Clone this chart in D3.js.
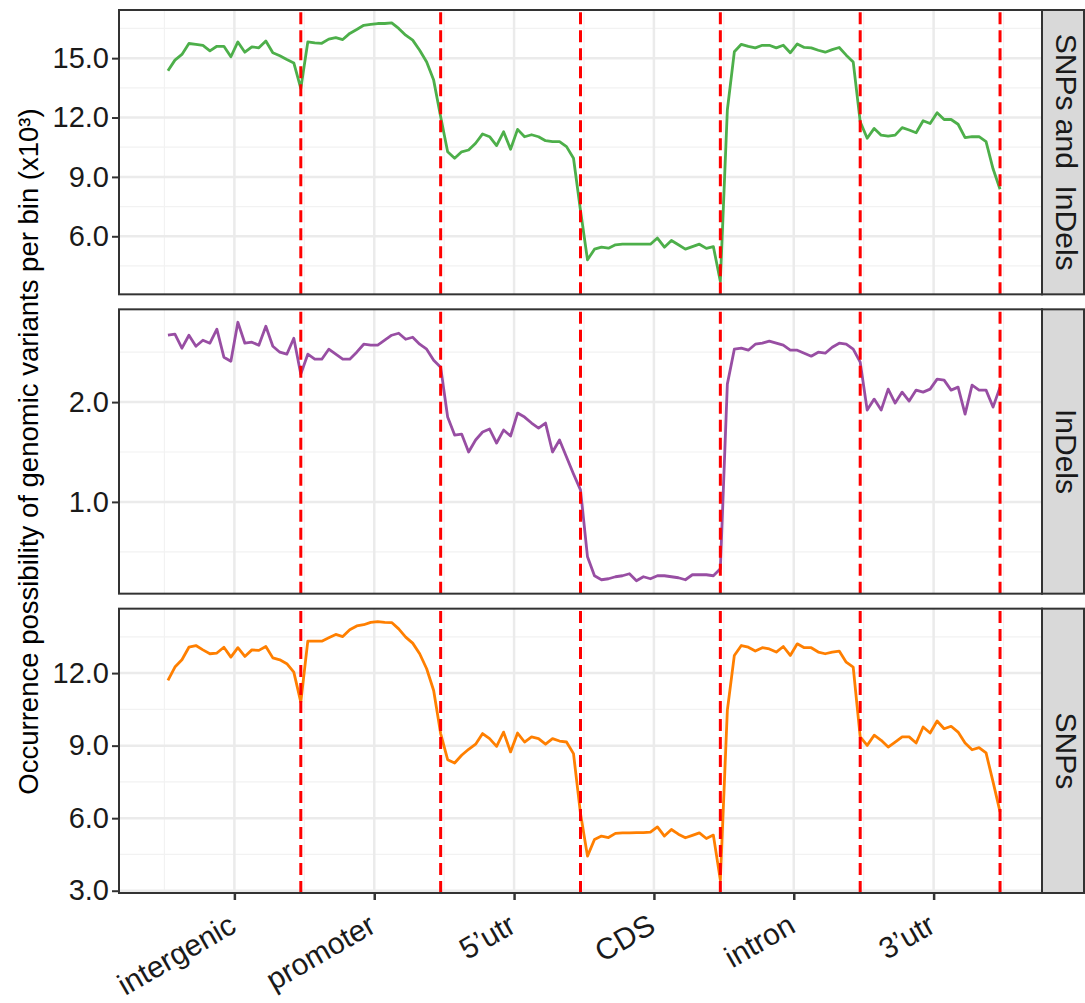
<!DOCTYPE html>
<html>
<head>
<meta charset="utf-8">
<script src="https://cdnjs.cloudflare.com/ajax/libs/d3/7.8.5/d3.min.js"></script>
<style>
body { margin: 0; background: #fff; }
</style>
</head>
<body>
<div class="chart"></div>
<script>
// genomic regions along x, 20 bins each
const regions = ["intergenic", "promoter", "5\u2019utr", "CDS", "intron", "3\u2019utr"];
const boundaries = [20, 40, 60, 80, 100, 120];
const panelNames = ["SNPs and  InDels", "InDels", "SNPs"];
const yBreaks = [[6, 9, 12, 15], [1, 2], [3, 6, 9, 12]];
const colours = ["#4DAF4A", "#984EA3", "#FF7F00"];

const snpsIndels = [
	14.36, 14.9, 15.19, 15.74, 15.7, 15.64, 15.37, 15.6, 15.6, 15.07, 15.82, 15.3, 15.57, 15.52, 15.87, 15.27, 15.12, 14.93, 14.76, 13.47,
	15.82, 15.77, 15.75, 15.96, 16.04, 15.94, 16.25, 16.45, 16.66, 16.71, 16.75, 16.75, 16.78, 16.5, 16.16, 15.91, 15.4, 14.81, 13.89, 12.04,
	10.27, 9.94, 10.27, 10.36, 10.7, 11.17, 11.03, 10.58, 11.28, 10.4, 11.4, 11.03, 11.13, 11.03, 10.83, 10.78, 10.78, 10.53, 9.94, 7.3,
	4.81, 5.35, 5.45, 5.4, 5.57, 5.6, 5.6, 5.6, 5.6, 5.6, 5.91, 5.45, 5.79, 5.57, 5.35, 5.48, 5.6, 5.39, 5.48, 3.72,
	12.38, 15.32, 15.7, 15.6, 15.52, 15.65, 15.65, 15.52, 15.65, 15.27, 15.72, 15.54, 15.52, 15.4, 15.3, 15.43, 15.54, 15.15, 14.81, 11.79,
	10.95, 11.45, 11.11, 11.06, 11.11, 11.49, 11.37, 11.23, 11.84, 11.7, 12.24, 11.9, 11.9, 11.66, 10.98, 11.03, 11.03, 10.78, 9.41, 8.38
];
const indels = [
	2.67, 2.68, 2.54, 2.67, 2.56, 2.62, 2.59, 2.73, 2.45, 2.41, 2.8, 2.59, 2.6, 2.57, 2.76, 2.56, 2.5, 2.48, 2.64, 2.28,
	2.48, 2.43, 2.43, 2.53, 2.48, 2.43, 2.43, 2.5, 2.58, 2.57, 2.57, 2.62, 2.67, 2.69, 2.63, 2.65, 2.58, 2.53, 2.42, 2.35,
	1.85, 1.67, 1.68, 1.5, 1.62, 1.7, 1.73, 1.59, 1.72, 1.66, 1.89, 1.85, 1.79, 1.74, 1.79, 1.5, 1.62, 1.45, 1.28, 1.12,
	0.45, 0.26, 0.22, 0.23, 0.25, 0.26, 0.28, 0.21, 0.25, 0.23, 0.26, 0.26, 0.25, 0.24, 0.22, 0.27, 0.27, 0.27, 0.26, 0.33,
	2.18, 2.53, 2.54, 2.52, 2.58, 2.59, 2.61, 2.59, 2.57, 2.52, 2.52, 2.49, 2.46, 2.5, 2.49, 2.55, 2.59, 2.58, 2.53, 2.4,
	1.92, 2.03, 1.92, 2.13, 1.99, 2.1, 2.01, 2.12, 2.1, 2.13, 2.23, 2.22, 2.12, 2.15, 1.88, 2.17, 2.12, 2.12, 1.95, 2.15
];
const snps = [
	11.7, 12.25, 12.55, 13.07, 13.14, 12.96, 12.8, 12.83, 13.07, 12.66, 13.05, 12.69, 12.96, 12.94, 13.1, 12.63, 12.55, 12.39, 12.04, 10.8,
	13.32, 13.32, 13.32, 13.46, 13.6, 13.51, 13.79, 13.95, 14.0, 14.1, 14.13, 14.1, 14.09, 13.83, 13.49, 13.24, 12.8, 12.18, 11.28, 9.5,
	8.42, 8.28, 8.6, 8.85, 9.06, 9.5, 9.29, 8.97, 9.56, 8.74, 9.52, 9.15, 9.36, 9.29, 9.06, 9.29, 9.19, 9.15, 8.67, 6.19,
	4.43, 5.12, 5.26, 5.2, 5.37, 5.39, 5.39, 5.4, 5.4, 5.42, 5.64, 5.26, 5.53, 5.34, 5.19, 5.29, 5.39, 5.16, 5.3, 3.44,
	10.46, 12.73, 13.14, 13.07, 12.91, 13.05, 13.0, 12.87, 13.1, 12.73, 13.21, 13.05, 13.05, 12.87, 12.8, 12.87, 12.91, 12.45, 12.25, 9.36,
	9.01, 9.43, 9.22, 8.94, 9.15, 9.36, 9.36, 9.11, 9.77, 9.52, 10.02, 9.7, 9.8, 9.56, 9.11, 8.83, 8.92, 8.7, 7.5, 6.26
];
const series = [snpsIndels, indels, snps];

const font = "'Liberation Sans', Arial, sans-serif";
const width = 1085;
const height = 1003;
const left = 119, right = 1042;
const plotTop = 10, plotBottom = 893, gap = 15;
const panelH = (plotBottom - plotTop - 2 * gap) / 3;
const stripW = 42;

const svg = d3.select('.chart')
	.append('svg')
	.attr('width', width)
	.attr('height', height)
	.style('font-family', font);

svg.append('rect').attr('width', width).attr('height', height).attr('fill', '#fff');

// x runs over bins 1..120, expanded like ggplot from [0,120]
const xSpan = boundaries[boundaries.length - 1];
const x = d3.scaleLinear()
	.domain([-0.05 * xSpan, xSpan * 1.05])
	.range([left, right]);
const xBreaks = regions.map((d, i) => 10.5 + i * 20);
const xMinor = d3.range(0, regions.length + 1).map(i => 0.5 + i * 20);

series.forEach((values, p) => {
	const y0 = plotTop + p * (panelH + gap);
	const y1 = y0 + panelH;
	const ext = d3.extent(values);
	const pad = (ext[1] - ext[0]) * 0.05;
	const y = d3.scaleLinear().domain([ext[0] - pad, ext[1] + pad]).range([y1, y0]);

	const breaks = yBreaks[p];
	const step = breaks[1] - breaks[0];
	const yMinor = d3.range(breaks[0] - step / 2, ext[1] + pad, step)
		.filter(v => v > y.domain()[0] && v < y.domain()[1]);

	const g = svg.append('g');

	// minor grid
	g.selectAll('.ymin').data(yMinor).enter().append('line')
		.attr('x1', left).attr('x2', right)
		.attr('y1', d => y(d)).attr('y2', d => y(d))
		.attr('stroke', '#F2F2F2').attr('stroke-width', 1.2);
	g.selectAll('.xmin').data(xMinor).enter().append('line')
		.attr('x1', d => x(d)).attr('x2', d => x(d))
		.attr('y1', y0).attr('y2', y1)
		.attr('stroke', '#F2F2F2').attr('stroke-width', 1.2);
	// major grid
	g.selectAll('.ymaj').data(breaks).enter().append('line')
		.attr('x1', left).attr('x2', right)
		.attr('y1', d => y(d)).attr('y2', d => y(d))
		.attr('stroke', '#EBEBEB').attr('stroke-width', 2.5);
	g.selectAll('.xmaj').data(xBreaks).enter().append('line')
		.attr('x1', d => x(d)).attr('x2', d => x(d))
		.attr('y1', y0).attr('y2', y1)
		.attr('stroke', '#EBEBEB').attr('stroke-width', 2.5);

	const line = d3.line()
		.x((d, i) => x(i + 1))
		.y(d => y(d));
	g.append('path')
		.datum(values)
		.attr('d', line)
		.attr('fill', 'none')
		.attr('stroke', colours[p])
		.attr('stroke-width', 2.8)
		.attr('stroke-linejoin', 'round');

	// region boundaries
	g.selectAll('.vline').data(boundaries).enter().append('line')
		.attr('x1', d => x(d)).attr('x2', d => x(d))
		.attr('y1', y1).attr('y2', y0)
		.attr('stroke', '#FF0000').attr('stroke-width', 3)
		.attr('stroke-dasharray', '12,6');

	g.append('rect')
		.attr('x', left).attr('y', y0)
		.attr('width', right - left).attr('height', panelH)
		.attr('fill', 'none').attr('stroke', '#333').attr('stroke-width', 2);

	// strip
	g.append('rect')
		.attr('x', right).attr('y', y0)
		.attr('width', stripW).attr('height', panelH)
		.attr('fill', '#D9D9D9').attr('stroke', '#333').attr('stroke-width', 2);
	g.append('text')
		.attr('transform', `translate(${right + 14},${(y0 + y1) / 2}) rotate(90)`)
		.attr('text-anchor', 'middle')
		.attr('font-size', 30)
		.attr('fill', '#1a1a1a')
		.style('white-space', 'pre')
		.text(panelNames[p]);

	// y axis
	const ga = g.append('g')
		.attr('transform', `translate(${left},0)`)
		.call(d3.axisLeft(y).tickValues(breaks).tickFormat(d3.format('.1f')).tickSize(7).tickPadding(3));
	ga.select('.domain').remove();
	ga.attr('font-size', 29).attr('font-family', font);
	ga.selectAll('line').attr('stroke', '#333').attr('stroke-width', 2);
	ga.selectAll('text').attr('fill', '#1a1a1a');

	if (p === series.length - 1) {
		const gx = g.append('g')
			.attr('transform', `translate(0,${y1})`)
			.call(d3.axisBottom(x).tickValues(xBreaks).tickFormat((d, i) => regions[i]).tickSize(7));
		gx.select('.domain').remove();
		gx.attr('font-size', 30).attr('font-family', font);
		gx.selectAll('line').attr('stroke', '#333').attr('stroke-width', 2.5);
		gx.selectAll('text')
			.attr('fill', '#1a1a1a')
			.attr('text-anchor', 'end')
			.attr('y', 0).attr('dy', 0)
			.attr('transform', 'translate(3,38) rotate(-30)');
	}
});

svg.append('text')
	.attr('transform', `translate(38,${(plotTop + plotBottom) / 2}) rotate(-90)`)
	.attr('text-anchor', 'middle')
	.attr('font-size', 27.5)
	.attr('fill', '#000')
	.text('Occurrence possibility of genomic variants per bin (x10\u00B3)');
</script>
</body>
</html>
